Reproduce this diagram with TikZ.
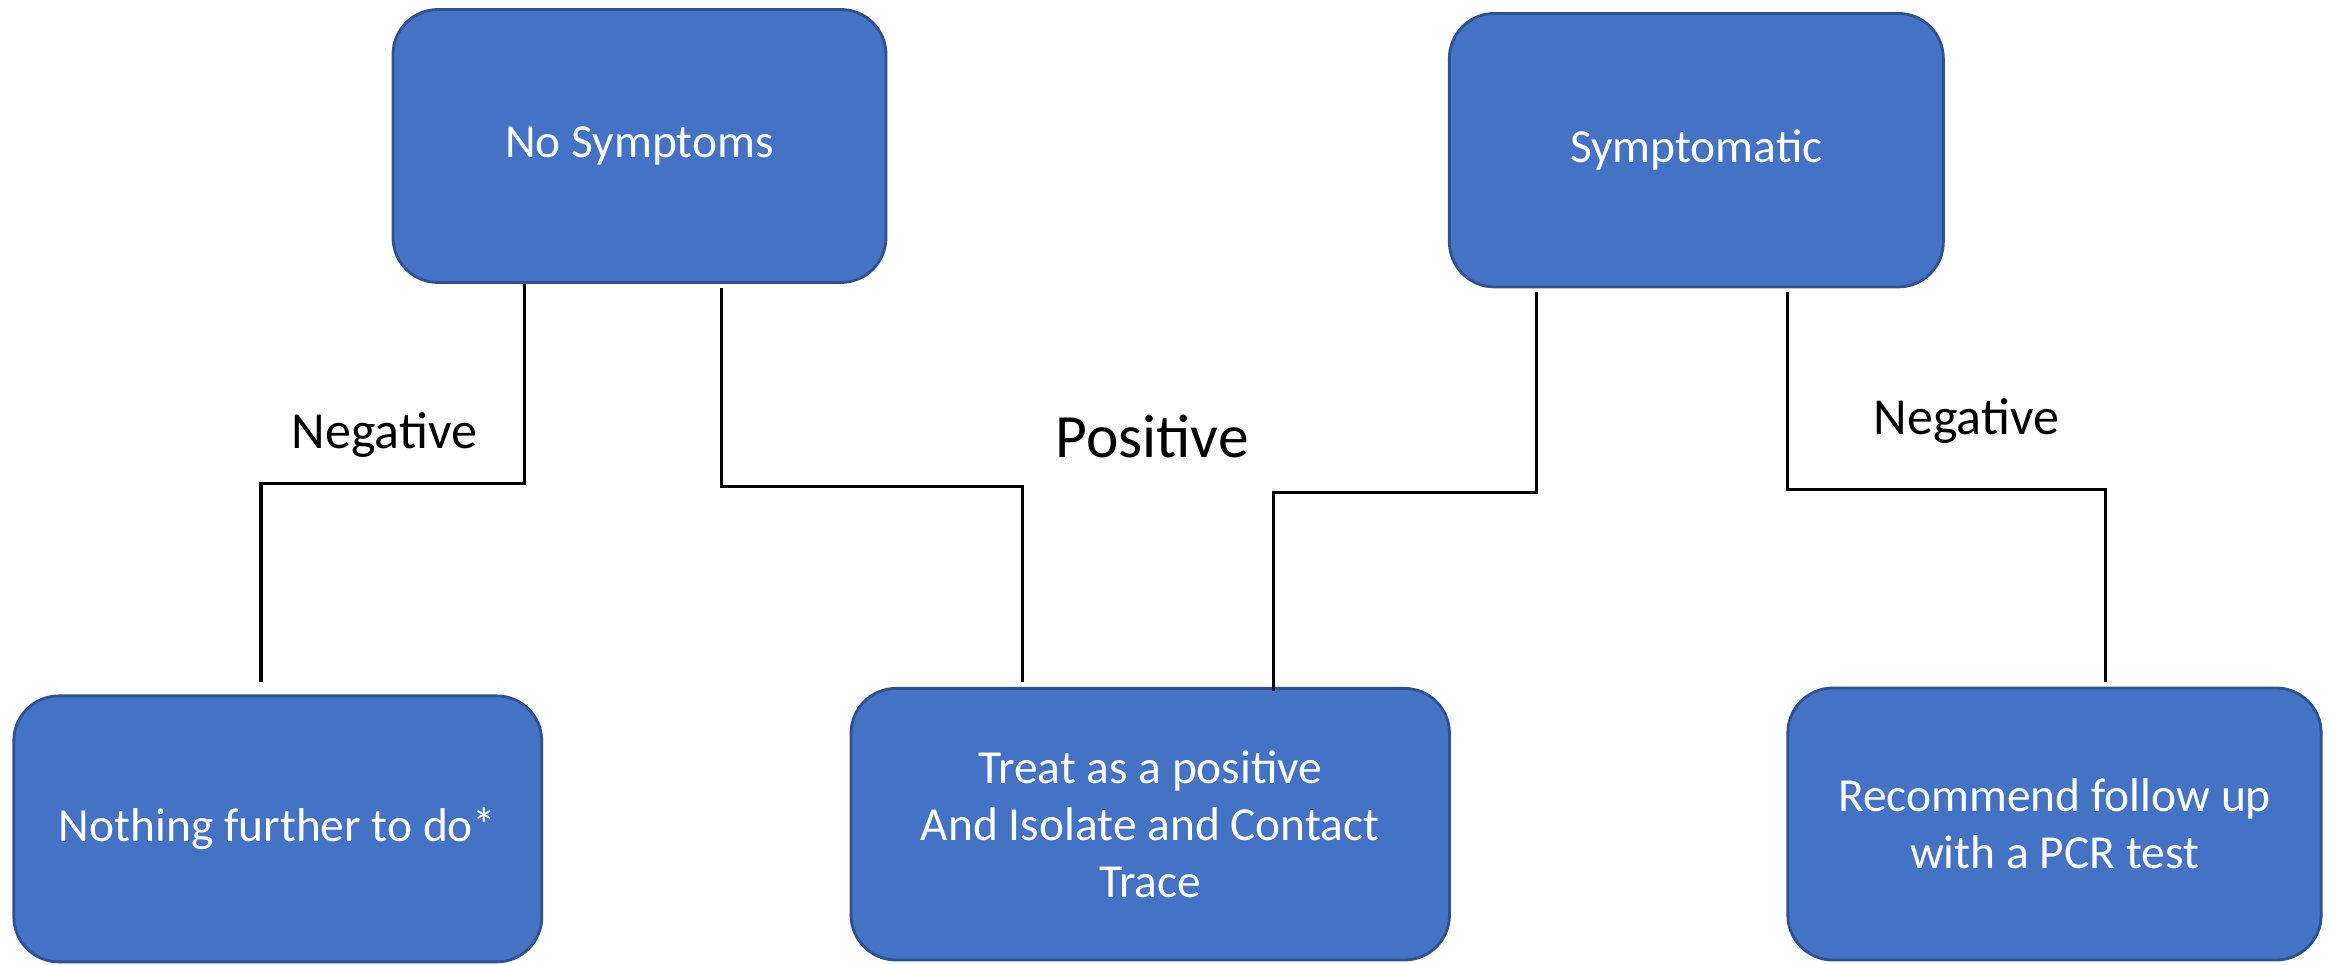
\documentclass[tikz,border=0pt]{standalone}
\usepackage{fontspec}
\setmainfont{Carlito}
\usepackage{tikz}
\usetikzlibrary{calc}
\definecolor{boxblue}{RGB}{68,114,196}
\definecolor{boxedge}{RGB}{47,82,143}
\tikzset{
  testbox/.style={draw=boxedge,line width=0.8pt,fill=boxblue,text=white,rounded corners=0.45cm,
    inner sep=0pt,align=center,font=\fontsize{13.5}{16.3}\selectfont},
  link/.style={draw=black,line width=0.9pt},
  result/.style={anchor=base,font=\fontsize{14.8}{17}\selectfont}
}
\begin{document}
\begin{tikzpicture}
  \useasboundingbox (0,0) rectangle (23.35,9.64);
  % top row
  \node [testbox,minimum width=4.93cm,minimum height=2.73cm] (nosym) at (6.395,8.18) {No Symptoms};
  \node [testbox,minimum width=4.94cm,minimum height=2.735cm] (sympt) at (16.9635,8.138) {Symptomatic};
  % bottom row
  \node [testbox,minimum width=5.28cm,minimum height=2.66cm] (nothing) at (2.778,1.351) {\raisebox{-0.08cm}{Nothing further to do*}};
  \node [testbox,minimum width=5.985cm,minimum height=2.716cm] (treat) at (11.5025,1.398) {Treat as a positive\\And Isolate and Contact\\Trace};
  \node [testbox,minimum width=5.334cm,minimum height=2.72cm] (recom) at (20.545,1.40) {Recommend follow up\\with a PCR test};
  % connectors
  \draw [link] ([xshift=-1.153cm]nosym.south) -- ++(0,-2.0) -| ([xshift=-0.168cm,yshift=0.123cm]nothing.north);
  \draw [link] ([xshift=0.822cm,yshift=-0.04cm]nosym.south) -- ++(0,-1.987) -| ([xshift=-1.279cm,yshift=0.05cm]treat.north);
  \draw [link] ([xshift=-1.596cm,yshift=-0.04cm]sympt.south) -- ++(0,-2.005) -| ([xshift=1.233cm,yshift=-0.045cm]treat.north);
  \draw [link] ([xshift=0.915cm,yshift=-0.04cm]sympt.south) -- ++(0,-1.97) -| ([xshift=0.509cm,yshift=0.05cm]recom.north);
  % labels
  \node [result] (negL) at (3.845,5.153) {Negative};
  \node [result,font=\fontsize{17.5}{20}\selectfont] (pos) at (11.522,5.06) {Positive};
  \node [result] (negR) at (19.665,5.29) {Negative};
\end{tikzpicture}
\end{document}
